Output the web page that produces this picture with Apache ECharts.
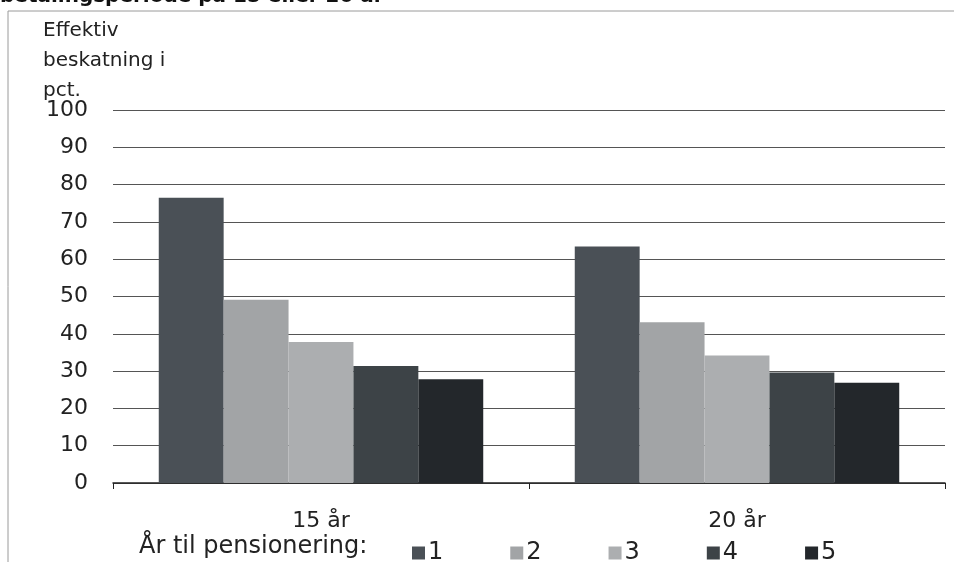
<!DOCTYPE html>
<html>
<head>
<meta charset="utf-8">
<script src="https://cdn.jsdelivr.net/npm/echarts@6/dist/echarts.min.js"></script>
<style>html,body{margin:0;padding:0;background:#fff}#c{width:954px;height:562px}</style>
</head>
<body>
<div id="c"></div>
<script>
const categories = ['15 år', '20 år'];
const seriesNames = ['1', '2', '3', '4', '5'];
const values1 = [76.5, 63.4];
const values2 = [49.1, 43.1];
const values3 = [37.8, 34.2];
const values4 = [31.4, 29.6];
const values5 = [27.8, 26.9];
const yTicks = [0, 10, 20, 30, 40, 50, 60, 70, 80, 90, 100];
const yTitleLines = ['Effektiv', 'beskatning i', 'pct.'];
const legendTitle = 'År til pensionering:';
const chartTitle = 'betalingsperiode på 15 eller 20 år';

const colors = ['#4a5056', '#a2a4a6', '#acaeb0', '#3d4347', '#23272b'];
const allValues = [values1, values2, values3, values4, values5];
const FONT = 'DejaVu Sans';

const chart = echarts.init(document.getElementById('c'), null, {renderer: 'canvas'});
chart.setOption({
  animation: false,
  backgroundColor: '#fff',
  textStyle: {fontFamily: FONT},
  grid: {left: 113, right: 9, top: 110, bottom: 79, containLabel: false},
  legend: {
    data: seriesNames,
    left: 407, top: 536,
    itemWidth: 13, itemHeight: 13, itemGap: 67,
    icon: 'rect',
    textStyle: {fontFamily: FONT, fontSize: 24, color: '#222', padding: [0, 0, 0, -2]}
  },
  graphic: [
    {type: 'text', left: 0, top: -13, style: {text: chartTitle, font: 'bold 20px "DejaVu Sans"', fill: '#111'}},
    {type: 'line', shape: {x1: 8, y1: 11, x2: 954, y2: 11}, style: {stroke: '#9a9a9a', lineWidth: 1}},
    {type: 'line', shape: {x1: 8, y1: 11, x2: 8, y2: 562}, style: {stroke: '#9a9a9a', lineWidth: 1}},
    {type: 'text', left: 43, top: 16, style: {text: yTitleLines.join('\n'), font: '20px "DejaVu Sans"', lineHeight: 30, fill: '#222'}},
    {type: 'text', left: 139, top: 535, style: {text: legendTitle, font: '24px "DejaVu Sans"', fill: '#222'}}
  ],
  xAxis: {
    type: 'category',
    data: categories,
    axisLine: {show: true, lineStyle: {color: '#222', width: 1.5}},
    axisTick: {show: true, length: 6, lineStyle: {color: '#222'}},
    axisLabel: {fontSize: 22, color: '#222', margin: 27, fontFamily: FONT}
  },
  yAxis: {
    type: 'value',
    min: yTicks[0], max: yTicks[yTicks.length - 1], interval: 10,
    axisLine: {show: false},
    axisTick: {show: false},
    axisLabel: {fontSize: 22, color: '#222', margin: 25, fontFamily: FONT},
    splitLine: {lineStyle: {color: '#555', width: 1}}
  },
  series: seriesNames.map((n, i) => ({
    name: n,
    type: 'bar',
    data: allValues[i],
    barGap: '0%',
    barCategoryGap: '22%',
    itemStyle: {color: colors[i]}
  }))
});
</script>
</body>
</html>
